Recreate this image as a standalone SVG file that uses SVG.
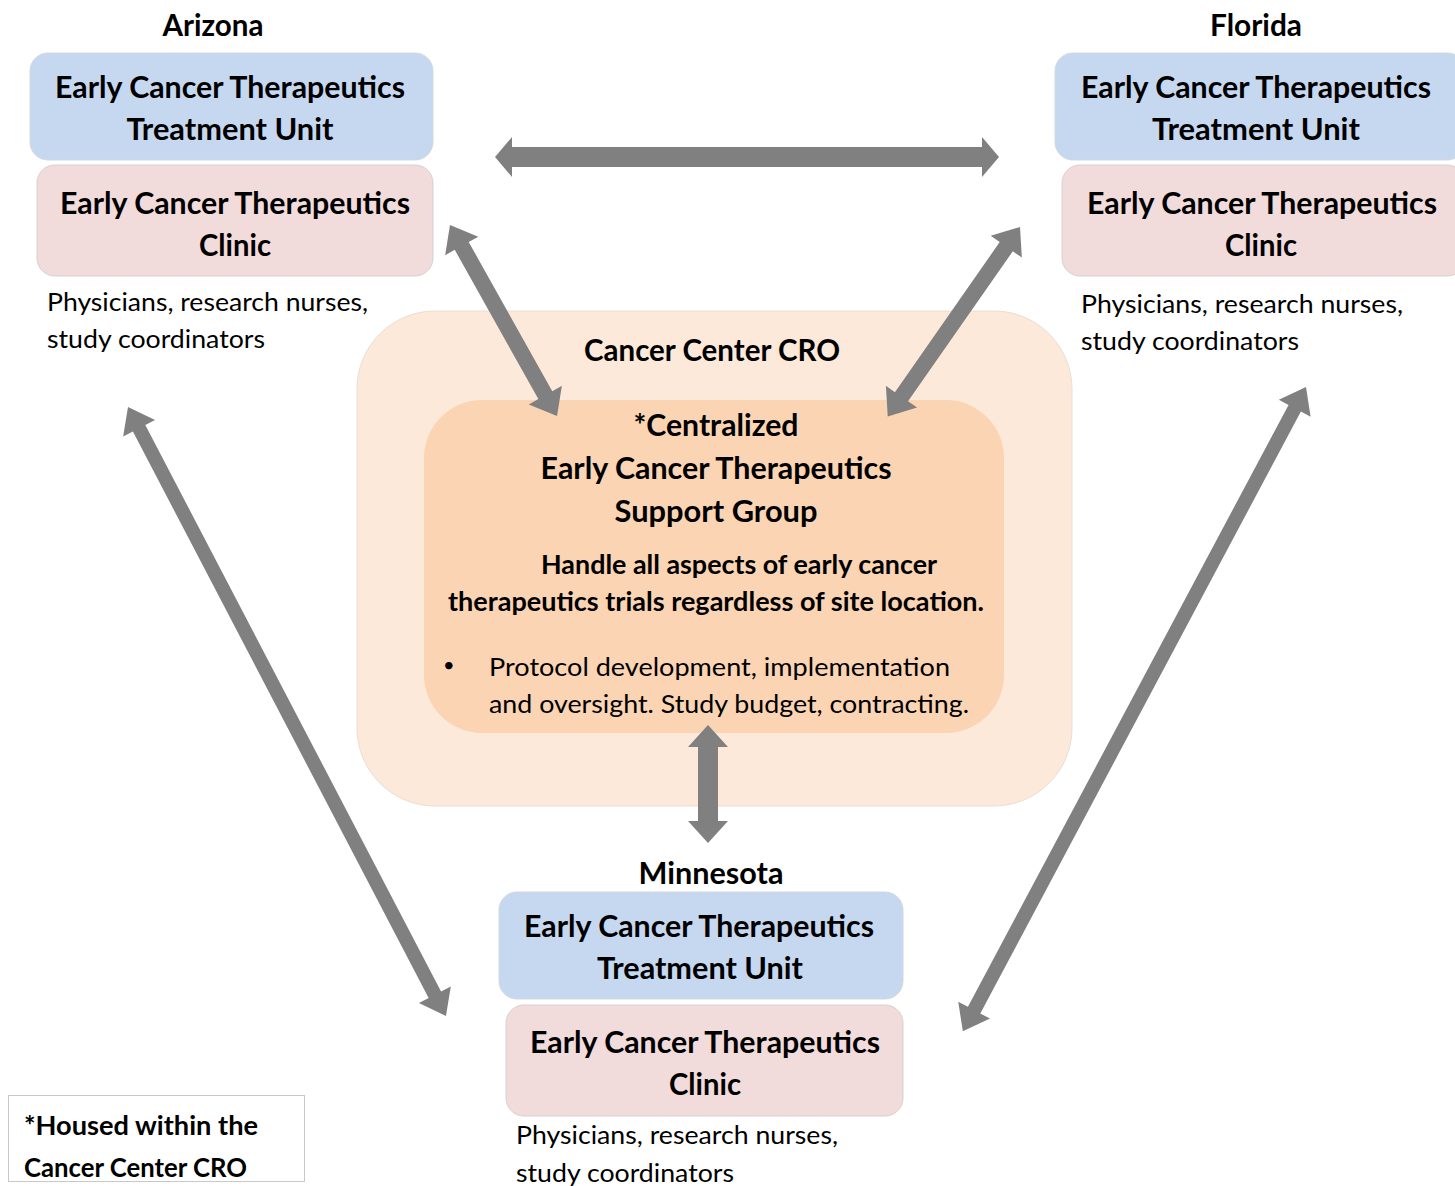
<svg xmlns="http://www.w3.org/2000/svg" width="1455" height="1186" viewBox="0 0 1455 1186">
<style>
text{font-family:Lato,"Open Sans","Liberation Sans",sans-serif;fill:#000}
.b{font-weight:bold;font-size:30px}
.lb{font-weight:bold;font-size:30px;text-anchor:middle}
.r{font-size:25px}
.m{font-weight:bold;font-size:26px}
.tu{fill:#C6D8F0;stroke:#D2D8E0;stroke-width:1}
.cl{fill:#F2DBDB;stroke:#D8D0D0;stroke-width:1}
.arw{fill:#808080}
</style>
<rect width="1455" height="1186" fill="#fff"/>
<g id="cro">
<rect x="357" y="311" width="715" height="495" rx="78" ry="78" fill="#FDE9D9" stroke="#EADDD2" stroke-width="1"/>
<text class="lb" x="712" y="361" textLength="256" lengthAdjust="spacingAndGlyphs">Cancer Center CRO</text>
</g>
<g id="support-group">
<rect x="424" y="400" width="580" height="333" rx="58" ry="58" fill="#FBD4B4"/>
<text class="lb" x="716" y="436" textLength="165" lengthAdjust="spacingAndGlyphs">*Centralized</text>
<text class="lb" x="716" y="479" textLength="351" lengthAdjust="spacingAndGlyphs">Early Cancer Therapeutics</text>
<text class="lb" x="716" y="522" textLength="203" lengthAdjust="spacingAndGlyphs">Support Group</text>
<text class="m" x="541" y="574" textLength="396" lengthAdjust="spacingAndGlyphs">Handle all aspects of early cancer</text>
<text class="m" x="448" y="611" textLength="536" lengthAdjust="spacingAndGlyphs">therapeutics trials regardless of site location.</text>
<text x="443" y="672" style="font-size:20px">•</text>
<text class="r" x="489" y="676" textLength="461" lengthAdjust="spacingAndGlyphs">Protocol development, implementation</text>
<text class="r" x="489" y="713" textLength="480" lengthAdjust="spacingAndGlyphs">and oversight. Study budget, contracting.</text>
</g>
<g id="arizona">
<text class="lb" x="213" y="36" textLength="101" lengthAdjust="spacingAndGlyphs">Arizona</text>
<rect class="tu" x="30" y="53" width="403" height="107" rx="18"/>
<text class="lb" x="230" y="98" textLength="350" lengthAdjust="spacingAndGlyphs">Early Cancer Therapeutics</text>
<text class="lb" x="230" y="140" textLength="207" lengthAdjust="spacingAndGlyphs">Treatment Unit</text>
<rect class="cl" x="37" y="165" width="396" height="111" rx="18"/>
<text class="lb" x="235" y="214" textLength="350" lengthAdjust="spacingAndGlyphs">Early Cancer Therapeutics</text>
<text class="lb" x="235" y="256" textLength="72" lengthAdjust="spacingAndGlyphs">Clinic</text>
<text class="r" x="47" y="311" textLength="321" lengthAdjust="spacingAndGlyphs">Physicians, research nurses,</text>
<text class="r" x="47" y="348" textLength="218" lengthAdjust="spacingAndGlyphs">study coordinators</text>
</g>
<g id="florida">
<text class="lb" x="1256" y="36" textLength="92" lengthAdjust="spacingAndGlyphs">Florida</text>
<rect class="tu" x="1055" y="53" width="410" height="107" rx="18"/>
<text class="lb" x="1256" y="98" textLength="350" lengthAdjust="spacingAndGlyphs">Early Cancer Therapeutics</text>
<text class="lb" x="1256" y="140" textLength="208" lengthAdjust="spacingAndGlyphs">Treatment Unit</text>
<rect class="cl" x="1062" y="165" width="403" height="111" rx="18"/>
<text class="lb" x="1262" y="214" textLength="350" lengthAdjust="spacingAndGlyphs">Early Cancer Therapeutics</text>
<text class="lb" x="1261" y="256" textLength="72" lengthAdjust="spacingAndGlyphs">Clinic</text>
<text class="r" x="1081" y="313" textLength="322" lengthAdjust="spacingAndGlyphs">Physicians, research nurses,</text>
<text class="r" x="1081" y="350" textLength="218" lengthAdjust="spacingAndGlyphs">study coordinators</text>
</g>
<g id="minnesota">
<text class="lb" x="711" y="884" textLength="145" lengthAdjust="spacingAndGlyphs">Minnesota</text>
<rect class="tu" x="499" y="892" width="404" height="107" rx="18"/>
<text class="lb" x="699" y="937" textLength="350" lengthAdjust="spacingAndGlyphs">Early Cancer Therapeutics</text>
<text class="lb" x="700" y="979" textLength="206" lengthAdjust="spacingAndGlyphs">Treatment Unit</text>
<rect class="cl" x="506" y="1005" width="397" height="111" rx="18"/>
<text class="lb" x="705" y="1053" textLength="350" lengthAdjust="spacingAndGlyphs">Early Cancer Therapeutics</text>
<text class="lb" x="705" y="1095" textLength="72" lengthAdjust="spacingAndGlyphs">Clinic</text>
<text class="r" x="516" y="1144" textLength="322" lengthAdjust="spacingAndGlyphs">Physicians, research nurses,</text>
<text class="r" x="516" y="1182" textLength="218" lengthAdjust="spacingAndGlyphs">study coordinators</text>
</g>
<g id="footnote">
<rect x="8.5" y="1095.5" width="296" height="86" fill="#fff" stroke="#C8C8C8" stroke-width="1"/>
<text class="m" x="24" y="1135" textLength="234" lengthAdjust="spacingAndGlyphs">*Housed within the</text>
<text class="m" x="24" y="1177" textLength="223" lengthAdjust="spacingAndGlyphs">Cancer Center CRO</text>
</g>
<g id="connectors">
<polygon class="arw" transform="translate(495,157)" points="0,0 17,-20 17,-10 487,-10 487,-20 504,0 487,20 487,10 17,10 17,20"/>
<polygon class="arw" transform="translate(450,225) rotate(60.74)" points="0,0 24,-19 24,-8 195,-8 195,-19 219,0 195,19 195,8 24,8 24,19"/>
<polygon class="arw" transform="translate(1020,227) rotate(124.93)" points="0,0 24,-19 24,-8 207,-8 207,-19 231,0 207,19 207,8 24,8 24,19"/>
<polygon class="arw" transform="translate(128,407) rotate(62.43)" points="0,0 24,-18 24,-7 663,-7 663,-18 687,0 663,18 663,7 24,7 24,18"/>
<polygon class="arw" transform="translate(1306,387) rotate(118.04)" points="0,0 24,-18 24,-7 706,-7 706,-18 730,0 706,18 706,7 24,7 24,18"/>
<polygon class="arw" transform="translate(708,725) rotate(90)" points="0,0 22,-20 22,-10 96,-10 96,-20 118,0 96,20 96,10 22,10 22,20"/>
</g>
</svg>
